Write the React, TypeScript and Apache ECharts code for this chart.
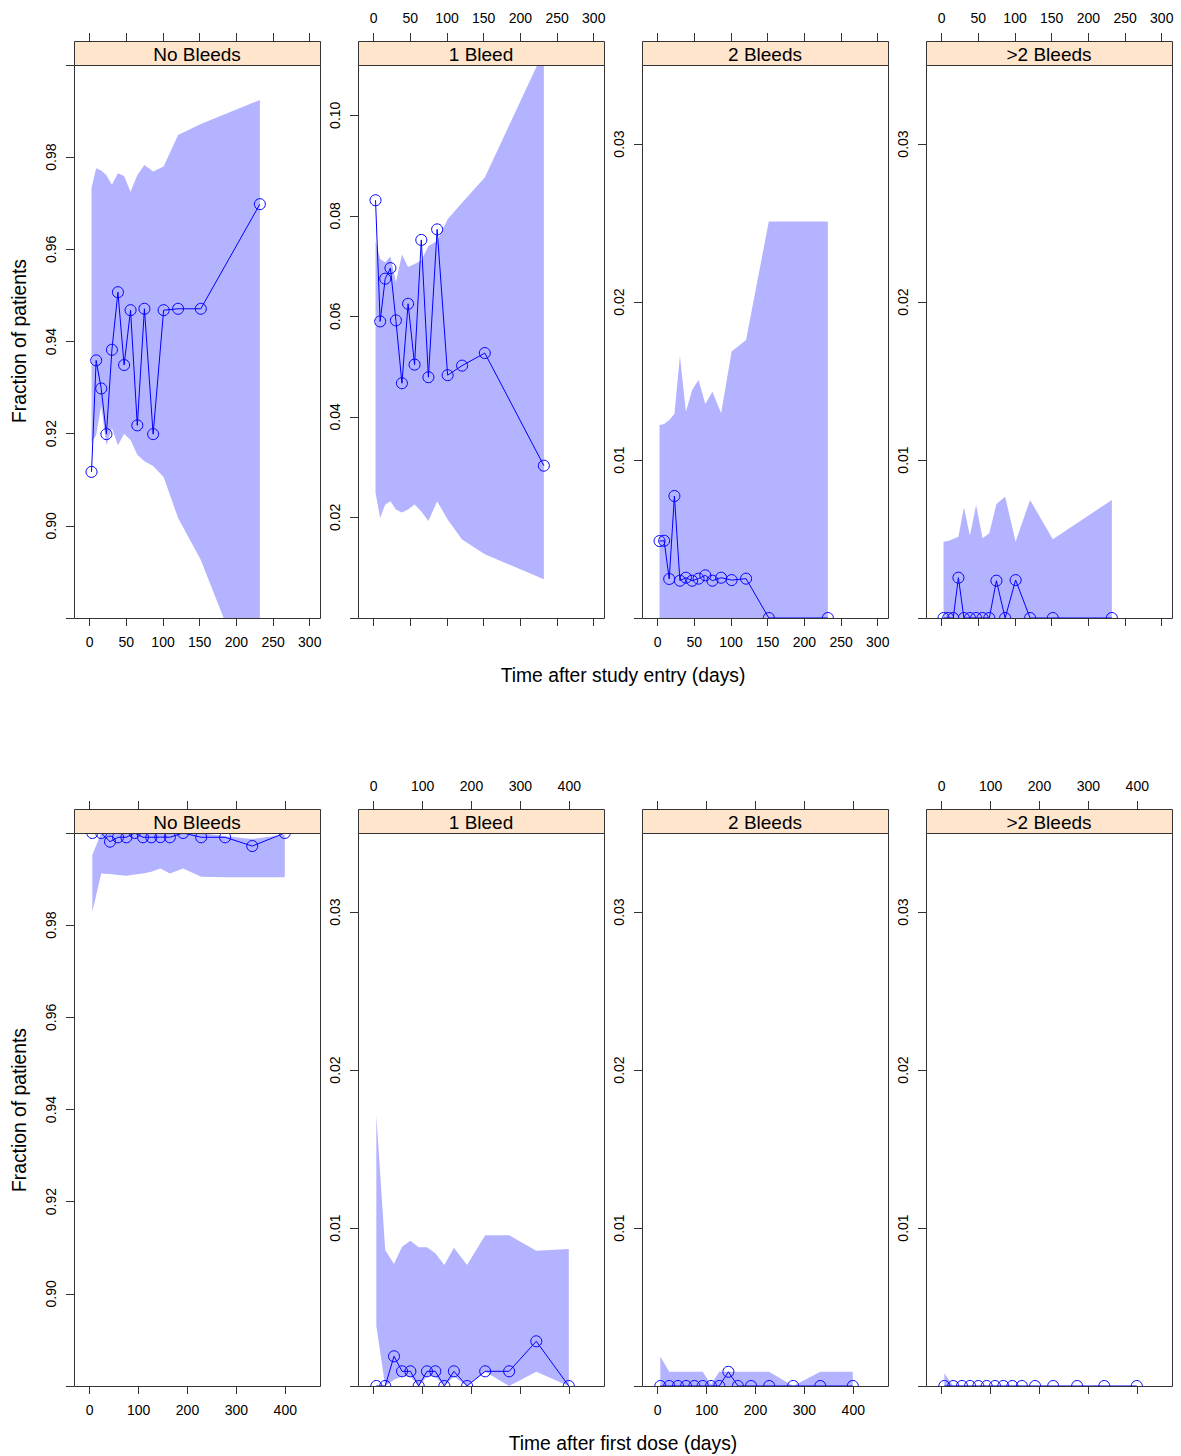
import React, { useEffect, useRef } from "react";
import * as echarts from "echarts";

const FONT = "'Liberation Sans', Arial, Helvetica, sans-serif";
const BAND = "#b3b3ff";
const BLUE = "#0000ff";

const panelTitles = ["No Bleeds", "1 Bleed", "2 Bleeds", ">2 Bleeds"];

// ---------- Row 1: time after study entry ----------
const entryDays = [2.5, 8.8, 15.7, 22.8, 30.3, 38.5, 46.9, 55.7, 64.9, 74.6, 86.5, 100.8, 120.5, 151.5, 232];

const entryNone = [0.9117, 0.9359, 0.9298, 0.9199, 0.9382, 0.9507, 0.9349, 0.9468, 0.9218, 0.9471, 0.9199, 0.9468, 0.9471, 0.9471, 0.9698];
const entryNoneLo = [0.918, 0.9197, 0.926, 0.9175, 0.9212, 0.9175, 0.92, 0.9186, 0.9154, 0.914, 0.913, 0.9106, 0.9017, 0.8926, 0.86];
const entryNoneHi = [0.9733, 0.9776, 0.9771, 0.9761, 0.974, 0.9765, 0.9759, 0.9725, 0.9761, 0.9783, 0.9769, 0.978, 0.9848, 0.9872, 0.9924];

const entryOne = [0.0831, 0.059, 0.0675, 0.0696, 0.0592, 0.0467, 0.0625, 0.0504, 0.0752, 0.0479, 0.0773, 0.0483, 0.0502, 0.0527, 0.0303];
const entryOneLo = [0.0249, 0.0199, 0.0226, 0.0232, 0.0216, 0.021, 0.0216, 0.0226, 0.0212, 0.0193, 0.0232, 0.0196, 0.0156, 0.0127, 0.0077];
const entryOneHi = [0.075, 0.0714, 0.0707, 0.0719, 0.0668, 0.0723, 0.0698, 0.0704, 0.0711, 0.074, 0.075, 0.0793, 0.0826, 0.0876, 0.1128];

const entryTwo = [0.00487, 0.00489, 0.00247, 0.00772, 0.00236, 0.00255, 0.00236, 0.00249, 0.0027, 0.00236, 0.00255, 0.0024, 0.00249, 0, 0];
const entryTwoLo = [0, 0, 0, 0, 0, 0, 0, 0, 0, 0, 0, 0, 0, 0, 0];
const entryTwoHi = [0.01222, 0.01228, 0.01253, 0.01291, 0.01658, 0.01306, 0.01443, 0.01506, 0.01355, 0.01432, 0.01296, 0.01686, 0.0176, 0.0251, 0.0251];

const entryMore = [0, 0, 0, 0.00255, 0, 0, 0, 0, 0, 0.00236, 0, 0.0024, 0, 0, 0];
const entryMoreLo = [0, 0, 0, 0, 0, 0, 0, 0, 0, 0, 0, 0, 0, 0, 0];
const entryMoreHi = [0.00483, 0.00487, 0.005, 0.00515, 0.007, 0.0052, 0.00715, 0.00504, 0.00536, 0.00722, 0.00768, 0.00483, 0.00747, 0.00498, 0.00747];

// ---------- Row 2: time after first dose ----------
const doseDays = [5.4, 23.5, 41.5, 58, 75, 92, 109, 126, 144.5, 164, 191, 228, 277, 332.5, 399];

const doseNone = [1, 1, 0.99812, 0.99907, 0.99907, 1, 0.99907, 0.99907, 0.9991, 0.99907, 1, 0.99907, 0.99907, 0.99717, 1];
const doseNoneLo = [0.9829, 0.9912, 0.9911, 0.9909, 0.9907, 0.991, 0.9912, 0.9916, 0.9923, 0.9912, 0.9923, 0.9905, 0.9904, 0.9904, 0.9904];
const doseNoneHi = [0.9952, 1, 1, 1, 1, 1, 1, 1, 1, 1, 1, 1, 0.9993, 0.9987, 0.9996];

const doseOne = [0, 0, 0.00188, 0.00093, 0.00093, 0, 0.00093, 0.00093, 0, 0.00093, 0, 0.00093, 0.00093, 0.00283, 0];
const doseOneLo = [0.0038, 0, 0.0004, 0.0006, 0.0006, 0, 0.0006, 0.0006, 0, 0.0006, 0, 0.0009, 0, 0.0009, 0];
const doseOneHi = [0.01715, 0.00861, 0.00772, 0.00882, 0.0092, 0.00878, 0.00878, 0.0084, 0.00766, 0.00875, 0.00766, 0.00954, 0.00954, 0.00856, 0.00867];

const doseTwo = [0, 0, 0, 0, 0, 0, 0, 0, 0.0009, 0, 0, 0, 0, 0, 0];
const doseTwoLo = [0, 0, 0, 0, 0, 0, 0, 0, 0, 0, 0, 0, 0, 0, 0];
const doseTwoHi = [0.00186, 0.0009, 0.0009, 0.0009, 0.0009, 0.0009, 0.0001, 0.0009, 0.0009, 0.0009, 0.0009, 0.0009, 0, 0.0009, 0.0009];

const doseMore = [0, 0, 0, 0, 0, 0, 0, 0, 0, 0, 0, 0, 0, 0, 0];
const doseMoreLo = [0, 0, 0, 0, 0, 0, 0, 0, 0, 0, 0, 0, 0, 0, 0];
const doseMoreHi = [0.0008, 0, 0, 0, 0, 0, 0, 0, 0, 0, 0, 0, 0, 0, 0];

// ---------- Axes ----------
const entryXTicks = [0, 50, 100, 150, 200, 250, 300];
const doseXTicks = [0, 100, 200, 300, 400];
const entryXRange = [-21.4, 314];
const doseXRange = [-32.1, 471];

const fracLabels = [0.9, 0.92, 0.94, 0.96, 0.98];
const fracTicks = [0.88, 0.9, 0.92, 0.94, 0.96, 0.98, 1.0];
const oneEntryLabels = [0.02, 0.04, 0.06, 0.08, 0.1];
const oneEntryTicks = [0, 0.02, 0.04, 0.06, 0.08, 0.1];
const smallLabels = [0.01, 0.02, 0.03];
const smallTicks = [0, 0.01, 0.02, 0.03];

const rowTitles = ["Time after study entry (days)", "Time after first dose (days)"];
const yTitle = "Fraction of patients";

// ---------- Layout ----------
const LEFTS = [74, 358, 642, 926];
const TOPS = [65, 833];
const PW = 246;
const PH = 553;
const STRIP = 24;

type Panel = {
  row: number;
  col: number;
  days: number[];
  val: number[];
  lo: number[];
  hi: number[];
  yRange: number[];
  yLabels: number[];
  yTicks: number[];
};

const panels: Panel[] = [
  { row: 0, col: 0, days: entryDays, val: entryNone, lo: entryNoneLo, hi: entryNoneHi, yRange: [0.88, 1.0], yLabels: fracLabels, yTicks: fracTicks },
  { row: 0, col: 1, days: entryDays, val: entryOne, lo: entryOneLo, hi: entryOneHi, yRange: [0, 0.11], yLabels: oneEntryLabels, yTicks: oneEntryTicks },
  { row: 0, col: 2, days: entryDays, val: entryTwo, lo: entryTwoLo, hi: entryTwoHi, yRange: [0, 0.035], yLabels: smallLabels, yTicks: smallTicks },
  { row: 0, col: 3, days: entryDays, val: entryMore, lo: entryMoreLo, hi: entryMoreHi, yRange: [0, 0.035], yLabels: smallLabels, yTicks: smallTicks },
  { row: 1, col: 0, days: doseDays, val: doseNone, lo: doseNoneLo, hi: doseNoneHi, yRange: [0.88, 1.0], yLabels: fracLabels, yTicks: fracTicks },
  { row: 1, col: 1, days: doseDays, val: doseOne, lo: doseOneLo, hi: doseOneHi, yRange: [0, 0.035], yLabels: smallLabels, yTicks: smallTicks },
  { row: 1, col: 2, days: doseDays, val: doseTwo, lo: doseTwoLo, hi: doseTwoHi, yRange: [0, 0.035], yLabels: smallLabels, yTicks: smallTicks },
  { row: 1, col: 3, days: doseDays, val: doseMore, lo: doseMoreLo, hi: doseMoreHi, yRange: [0, 0.035], yLabels: smallLabels, yTicks: smallTicks },
];

function buildOption() {
  const grid: any[] = [];
  const xAxis: any[] = [];
  const yAxis: any[] = [];
  const series: any[] = [];
  const graphic: any[] = [];

  panels.forEach((p, idx) => {
    const left = LEFTS[p.col];
    const top = TOPS[p.row];
    const xr = p.row === 0 ? entryXRange : doseXRange;
    const xt = p.row === 0 ? entryXTicks : doseXTicks;
    const labelBottom = p.col % 2 === 0;

    grid.push({ left, top, width: PW, height: PH, containLabel: false, show: false });

    const xBase = {
      gridIndex: idx,
      type: "value",
      min: xr[0],
      max: xr[1],
      axisLine: { show: false, onZero: false },
      splitLine: { show: false },
      axisTick: { show: true, length: 8, lineStyle: { color: "#333", width: 1 }, customValues: xt },
    };
    xAxis.push({
      ...xBase,
      position: "bottom",
      axisLabel: { show: labelBottom, customValues: xt, margin: 17, fontSize: 14, color: "#000", fontFamily: FONT },
    });
    xAxis.push({
      ...xBase,
      position: "top",
      offset: STRIP,
      axisLabel: { show: !labelBottom, customValues: xt, margin: 16, fontSize: 14, color: "#000", fontFamily: FONT },
    });

    yAxis.push({
      gridIndex: idx,
      type: "value",
      position: "left",
      min: p.yRange[0],
      max: p.yRange[1],
      axisLine: { show: false, onZero: false },
      splitLine: { show: false },
      axisTick: { show: true, length: 8, lineStyle: { color: "#333", width: 1 }, customValues: p.yTicks },
      axisLabel: {
        customValues: p.yLabels,
        rotate: 90,
        margin: 16,
        fontSize: 14,
        color: "#000",
        fontFamily: FONT,
        formatter: (v: number) => v.toFixed(2),
      },
    });

    const days = p.days;
    const lo = p.lo;
    const hi = p.hi;

    // confidence band
    series.push({
      type: "custom",
      xAxisIndex: 2 * idx,
      yAxisIndex: idx,
      clip: true,
      silent: true,
      z: 1,
      data: days.map((d, i) => [d, lo[i], hi[i]]),
      renderItem: (params: any, api: any) => {
        if (params.dataIndex !== 0) return null;
        const pts: number[][] = [];
        for (let i = 0; i < days.length; i++) pts.push(api.coord([days[i], hi[i]]));
        for (let i = days.length - 1; i >= 0; i--) pts.push(api.coord([days[i], lo[i]]));
        return { type: "polygon", shape: { points: pts }, style: { fill: BAND, stroke: "none" } };
      },
    });

    // connecting line
    series.push({
      type: "line",
      xAxisIndex: 2 * idx,
      yAxisIndex: idx,
      z: 2,
      symbol: "none",
      silent: true,
      lineStyle: { color: BLUE, width: 1 },
      data: days.map((d, i) => [d, p.val[i]]),
    });

    // open circles
    series.push({
      type: "custom",
      xAxisIndex: 2 * idx,
      yAxisIndex: idx,
      clip: true,
      silent: true,
      z: 3,
      data: days.map((d, i) => [d, p.val[i]]),
      renderItem: (params: any, api: any) => {
        const c = api.coord([api.value(0), api.value(1)]);
        return {
          type: "circle",
          shape: { cx: c[0], cy: c[1], r: 5.5 },
          style: { fill: "rgba(0,0,0,0)", stroke: BLUE, lineWidth: 1 },
        };
      },
    });

    // panel frame
    graphic.push({
      type: "rect",
      z: 50,
      silent: true,
      shape: { x: left + 0.5, y: top + 0.5, width: PW, height: PH },
      style: { fill: "rgba(0,0,0,0)", stroke: "#333", lineWidth: 1 },
    });
    // strip
    graphic.push({
      type: "rect",
      z: 50,
      silent: true,
      shape: { x: left + 0.5, y: top - STRIP + 0.5, width: PW, height: STRIP },
      style: { fill: "#ffe5cc", stroke: "#333", lineWidth: 1 },
    });
    graphic.push({
      type: "text",
      z: 51,
      silent: true,
      x: left + PW / 2,
      y: top - STRIP / 2 + 1,
      style: {
        text: panelTitles[p.col],
        fontSize: 19,
        fontFamily: FONT,
        fill: "#000",
        align: "center",
        verticalAlign: "middle",
        textAlign: "center",
        textVerticalAlign: "middle",
      },
    });
  });

  // axis titles
  const titleStyle = {
    fontSize: 19.3,
    fontFamily: FONT,
    fill: "#000",
    align: "center",
    verticalAlign: "middle",
    textAlign: "center",
    textVerticalAlign: "middle",
  };
  graphic.push({ type: "text", z: 51, x: 623, y: 675, style: { ...titleStyle, text: rowTitles[0] } });
  graphic.push({ type: "text", z: 51, x: 623, y: 1443, style: { ...titleStyle, text: rowTitles[1] } });
  graphic.push({ type: "text", z: 51, x: 19, y: 341, rotation: Math.PI / 2, style: { ...titleStyle, text: yTitle } });
  graphic.push({ type: "text", z: 51, x: 19, y: 1110, rotation: Math.PI / 2, style: { ...titleStyle, text: yTitle } });

  return {
    animation: false,
    backgroundColor: "#fff",
    textStyle: { fontFamily: FONT },
    grid,
    xAxis,
    yAxis,
    series,
    graphic,
  };
}

export default function App() {
  const ref = useRef<HTMLDivElement>(null);
  useEffect(() => {
    if (!ref.current) return;
    const chart = echarts.init(ref.current, null, { renderer: "svg" });
    chart.setOption(buildOption() as any);
    return () => {
      chart.dispose();
    };
  }, []);
  return (
    <div
      ref={ref}
      style={{ position: "absolute", left: 0, top: 0, width: 1181, height: 1456, background: "#fff" }}
    />
  );
}
